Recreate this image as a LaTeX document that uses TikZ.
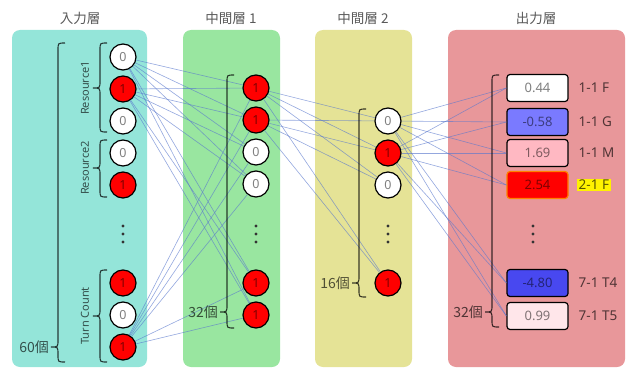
\documentclass[tikz,border=0pt]{standalone}
\usepackage{fontspec}
\setmainfont{Noto Sans}
\newfontfamily\jp{Noto Sans CJK JP}
\definecolor{inbg}{RGB}{148,229,217}
\definecolor{hidAbg}{RGB}{153,230,160}
\definecolor{hidBbg}{RGB}{229,227,150}
\definecolor{outbg}{RGB}{232,151,154}
\definecolor{wirec}{RGB}{90,120,205}
\definecolor{neg}{RGB}{122,122,255}
\definecolor{negdeep}{RGB}{72,72,240}
\definecolor{posl}{RGB}{255,184,194}
\definecolor{posll}{RGB}{255,230,234}
% x, top, tip, bottom
\newcommand{\drawcurly}[4]{%
  \draw[brace] ({#1+7},#2) .. controls (#1,#2) .. (#1,{#2+7}) -- (#1,{#3-7})
    .. controls (#1,#3) .. ({#1-7},#3) .. controls (#1,#3) .. (#1,{#3+7})
    -- (#1,{#4-7}) .. controls (#1,#4) .. ({#1+7},#4);}
\begin{document}
\begin{tikzpicture}[x=1pt,y=-1pt,
    title/.style={font=\jp\fontsize{13.5}{15}\selectfont,text=black!65},
    unit0/.style={circle,draw,line width=1.2pt,fill=white,minimum size=26pt,inner sep=0pt,
      text=black,text opacity=0.5,font=\fontsize{12.5}{13}\selectfont},
    unit1/.style={unit0,fill=red},
    outbox/.style={draw,line width=1.2pt,rounded corners=3pt,minimum width=61pt,minimum height=27pt,
      inner sep=0pt,text=black,text opacity=0.5,font=\fontsize{13}{14}\selectfont},
    boxn/.style={},
    boxh/.style={draw=orange},
    lab/.style={anchor=west,inner sep=1.5pt,text=black,text opacity=0.65,font=\fontsize{13.5}{14}\selectfont},
    labn/.style={},
    labh/.style={fill=yellow},
    cnt/.style={anchor=east,inner sep=1pt,text=black,text opacity=0.65,font=\jp\fontsize{14}{15}\selectfont},
    grp/.style={rotate=90,text=black,text opacity=0.65,font=\fontsize{11}{12}\selectfont},
    wire/.style={draw=wirec,opacity=0.65,line width=0.6pt},
    brace/.style={draw=black,opacity=0.75,line width=1.1pt}]
  \useasboundingbox (0,0) rectangle (626,369);

  \fill[inbg,rounded corners=8pt] (12,30) rectangle (147,367);
  \fill[hidAbg,rounded corners=8pt] (183,30) rectangle (280,367);
  \fill[hidBbg,rounded corners=8pt] (315,30) rectangle (412,367);
  \fill[outbg,rounded corners=8pt] (448,30) rectangle (625,367);

  \node[title] (in-title) at (80,18) {入力層};
  \node[title] (hA-title) at (231,18) {中間層 1};
  \node[title] (hB-title) at (363,18) {中間層 2};
  \node[title] (out-title) at (536,18) {出力層};

  \foreach \y/\v [count=\n] in {57/0,89/1,121/0,153/0,185/1,283/1,315/0,347/1}
    \node[unit\v] (i\n) at (123,\y) {\v};
  \foreach \y/\v [count=\n] in {88/1,120/1,152/0,184/0,283/1,315/1}
    \node[unit\v] (h\n) at (256,\y) {\v};
  \foreach \y/\v [count=\n] in {121/0,153/1,185/0,283/1}
    \node[unit\v] (j\n) at (388,\y) {\v};
  \foreach \y/\v/\c/\t/\s [count=\n] in {88/0.44/white/1-1 F/n,122/-0.58/neg/1-1 G/n,153/1.69/posl/1-1 M/n,
      185/2.54/red/2-1 F/h,283/-4.80/negdeep/7-1 T4/n,316/0.99/posll/7-1 T5/n}
  {
    \node[outbox,fill=\c,box\s] (o\n) at (537.5,\y) {\v};
    \node[lab,lab\s] (l\n) at (577,\y) {\t};
  }

  \foreach \x in {123,256,388,533}
    \foreach \d in {-8,0,8}
      \fill[black!80] (\x,234+\d) circle (1.6pt);

  \foreach \a in {i1,i2,i8}
    \foreach \b in {h1,h2,h3,h4,h5,h6}
      \draw[wire] (\a) -- (\b);
  \foreach \a in {h1,h2}
    \foreach \b in {j1,j2,j3,j4}
      \draw[wire] (\a) -- (\b);
  \foreach \a in {j1,j2}
    \foreach \b in {o1,o2,o3,o4,o5,o6}
      \draw[wire] (\a) -- (\b.west);

  \drawcurly{58}{43}{347}{362}
  \drawcurly{100}{43}{88}{132}
  \drawcurly{100}{140}{168}{197}
  \drawcurly{100}{270}{316}{362}
  \drawcurly{227}{75}{312}{328}
  \drawcurly{359}{109}{283}{297}
  \drawcurly{492}{75}{312}{327}

  \node[grp] (res1) at (85,88) {Resource1};
  \node[grp] (res2) at (85,168) {Resource2};
  \node[grp] (turn) at (85,316) {Turn Count};
  \node[cnt] (in-cnt) at (50,347) {60個};
  \node[cnt] (hA-cnt) at (219,312) {32個};
  \node[cnt] (hB-cnt) at (351,283) {16個};
  \node[cnt] (out-cnt) at (484,312) {32個};
\end{tikzpicture}
\end{document}
